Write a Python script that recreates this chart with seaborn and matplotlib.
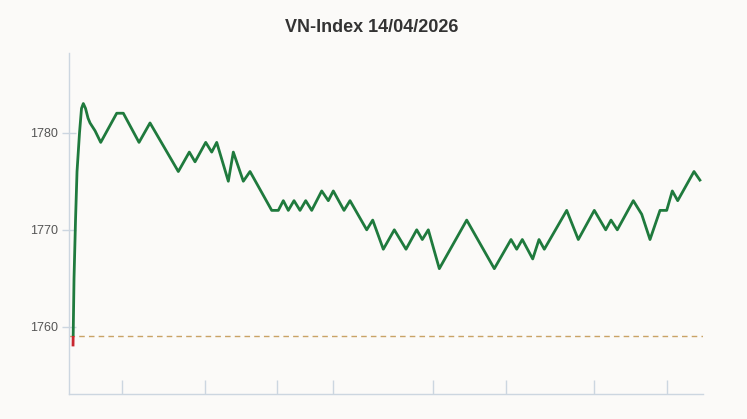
import numpy as np
import pandas as pd
import matplotlib
matplotlib.use("Agg")
import matplotlib.pyplot as plt
from matplotlib.patches import Rectangle
import seaborn as sns

# intraday index points (time index, value)
time_idx = [0, 1, 2.5, 4, 6.5, 8.5, 10.3, 12.5, 15, 17, 22, 27.7, 43.7, 50.3, 66, 77,
            105.3, 116.3, 122, 132.7, 138.7, 143.7, 155.3, 160.3, 170.3, 177, 198.7,
            205.3, 210.3, 215.3, 221, 227, 232.7, 238.7, 248.7, 255.3, 260.3, 271,
            277, 293.7, 299.7, 310.3, 321.3, 333, 343.7, 349.3, 355.3, 366.3, 393.7,
            421.3, 438, 443.7, 449.3, 459.7, 466, 471.3, 493.7, 505.3, 521.3, 532.7,
            538, 544.3, 560.3, 568.7, 577, 587, 593.7, 599.3, 604.7, 621, 627.7]
index_vals = [1758, 1765, 1771, 1776, 1780, 1782.5, 1783, 1782.5, 1781.5, 1781, 1780.2,
              1779, 1782, 1782, 1779, 1781, 1776, 1778, 1777, 1779, 1778, 1779, 1775,
              1778, 1775, 1776, 1772, 1772, 1773, 1772, 1773, 1772, 1773, 1772, 1774,
              1773, 1774, 1772, 1773, 1770, 1771, 1768, 1770, 1768, 1770, 1769, 1770,
              1766, 1771, 1766, 1769, 1768, 1769, 1767, 1769, 1768, 1772, 1769, 1772,
              1770, 1771, 1770, 1773, 1771.6, 1769, 1772, 1772, 1774, 1773, 1776, 1775]
prev_close = 1759.07
x_ticks = [49, 132, 204, 260, 360, 433, 521, 594]
y_ticks = [1760, 1770, 1780]

df = pd.DataFrame({"t": time_idx, "v": index_vals})

bg = "#fbfaf8"
sns.set_style("white", {"axes.facecolor": bg, "figure.facecolor": bg})
plt.rcParams["font.family"] = ["Liberation Sans", "DejaVu Sans"]

fig = plt.figure(figsize=(7.47, 4.19), dpi=100)
ax = fig.add_axes([0.0924, 0.0597, 0.8487, 0.8138])

xmin, xmax = -4, 630
ymin, ymax = 1753.1, 1788.2

# reference line (previous close)
ax.axhline(prev_close, color="#c9a366", lw=1, ls=(0, (4, 3)), zorder=1)

sns.lineplot(data=df, x="t", y="v", sort=False, color="#1f7a3d", lw=2, ax=ax, zorder=3)
up_line = ax.lines[-1]
sns.lineplot(data=df, x="t", y="v", sort=False, color="#c8262f", lw=2, ax=ax, zorder=3)
down_line = ax.lines[-1]
for ln in (up_line, down_line):
    ln.set_solid_joinstyle("round")
    ln.set_solid_capstyle("butt")
up_line.set_clip_path(Rectangle((xmin, prev_close), xmax - xmin, ymax - prev_close,
                                transform=ax.transData))
down_line.set_clip_path(Rectangle((xmin, ymin), xmax - xmin, prev_close - ymin,
                                  transform=ax.transData))

ax.set_xlim(xmin, xmax)
ax.set_ylim(ymin, ymax)
ax.set_xticks(x_ticks)
ax.set_xticklabels([])
ax.set_yticks(y_ticks)
ax.set_yticklabels([str(v) for v in y_ticks])
ax.set_xlabel("")
ax.set_ylabel("")

spine_col = "#ccd6e0"
for side in ("top", "right"):
    ax.spines[side].set_visible(False)
for side in ("left", "bottom"):
    ax.spines[side].set_color(spine_col)
    ax.spines[side].set_linewidth(1)
ax.tick_params(axis="x", bottom=True, direction="in", length=10, color=spine_col, width=1)
ax.tick_params(axis="y", left=True, direction="inout", length=10, color=spine_col, width=1,
               labelsize=9, labelcolor="#555555", pad=3)

fig.suptitle("VN-Index 14/04/2026", x=0.497, y=0.955, fontsize=13, fontweight="bold",
             color="#333333")

fig.savefig("out.png", dpi=100, facecolor=bg)
